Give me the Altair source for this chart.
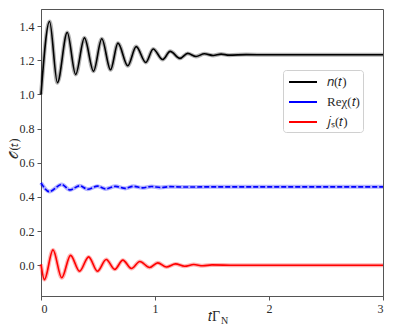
import altair as alt
import pandas as pd

# ---- data (extrema of the oscillations) ----
n_t = [0.0, 0.075, 0.144, 0.23, 0.304, 0.381, 0.461, 0.533, 0.61, 0.675, 0.761, 0.835,
       0.919, 0.984, 1.067, 1.133, 1.219, 1.287, 1.36, 1.433, 1.51, 1.58, 1.65, 1.8, 2.0, 2.5, 3.0]
n_v = [1.0, 1.427, 1.069, 1.362, 1.117, 1.331, 1.136, 1.326, 1.144, 1.30, 1.168, 1.28,
       1.187, 1.266, 1.204, 1.252, 1.211, 1.240, 1.222, 1.238, 1.228, 1.236, 1.230, 1.233, 1.232, 1.232, 1.232]

chi_t = [0.0, 0.073, 0.182, 0.253, 0.338, 0.41, 0.495, 0.567, 0.653, 0.739, 0.81, 0.89,
         0.97, 1.05, 1.13, 1.25, 1.5, 2.0, 2.5, 3.0]
chi_v = [0.482, 0.431, 0.473, 0.441, 0.465, 0.445, 0.463, 0.447, 0.462, 0.45, 0.462, 0.453,
         0.461, 0.455, 0.460, 0.458, 0.459, 0.459, 0.459, 0.459]

js_t = [0.0, 0.03, 0.105, 0.182, 0.259, 0.338, 0.418, 0.495, 0.572, 0.647, 0.718, 0.793,
        0.867, 0.953, 1.024, 1.1, 1.18, 1.26, 1.34, 1.42, 1.5, 1.7, 2.0, 2.5, 3.0]
js_v = [0.005, -0.084, 0.09, -0.073, 0.058, -0.035, 0.049, -0.035, 0.034, -0.024, 0.03, -0.019,
        0.022, -0.013, 0.014, -0.01, 0.008, -0.006, 0.004, -0.003, 0.002, 0.0, 0.0, 0.0, 0.0]

series_names = ["𝑛(𝑡)", "Reχ(𝑡)", "𝑗ₛ(𝑡)"]
series_colors = ["#000000", "#0000ff", "#ff0000"]
x_ticks = [0, 1, 2, 3]
y_ticks = [0.0, 0.2, 0.4, 0.6, 0.8, 1.0, 1.2, 1.4]

rows = []
for name, ts, vs in zip(series_names, [n_t, chi_t, js_t], [n_v, chi_v, js_v]):
    for t, v in zip(ts, vs):
        rows.append({"t": t, "v": v, "s": name})
df = pd.DataFrame(rows)

FONT = "Liberation Serif"
TXT = "#2a2a2a"

x = alt.X("t:Q", scale=alt.Scale(domain=[0, 3], nice=False, zero=False),
          axis=alt.Axis(values=x_ticks, format="d", title=None, grid=False))
y = alt.Y("v:Q", scale=alt.Scale(domain=[-0.18, 1.5], nice=False, zero=False),
          axis=alt.Axis(values=y_ticks, format=".1f", title="𝒪(𝑡)", grid=False,
                        titleFontSize=12, titleFont=FONT, titleFontWeight="normal",
                        titleColor=TXT, titleAngle=270, titleX=-21, titleY=139,
                        titleAlign="center", titleBaseline="bottom"))
color = alt.Color("s:N", scale=alt.Scale(domain=series_names, range=series_colors),
                  legend=alt.Legend(title=None, orient="none", legendX=242, legendY=61,
                                    symbolType="M-1.75,0H1.75", symbolSize=256,
                                    symbolStrokeWidth=2, symbolOffset=8,
                                    symbolOpacity=1, labelFont=FONT, labelFontSize=13,
                                    labelColor=TXT, labelOffset=15,
                                    strokeColor="#d0d0d0", fillColor="white",
                                    padding=3, cornerRadius=3, rowPadding=4))

halo = alt.Chart(df).mark_line(strokeWidth=4, opacity=0.3, interpolate="monotone").encode(
    x=x, y=y, color=color)
main = alt.Chart(df).transform_filter(
    alt.datum.s != series_names[1]
).mark_line(strokeWidth=1.6, interpolate="monotone").encode(x=x, y=y, color=color)
main_chi = alt.Chart(df).transform_filter(
    alt.datum.s == series_names[1]
).mark_line(strokeWidth=1.6, interpolate="monotone", strokeDash=[5, 2],
            color=series_colors[1]).encode(x=x, y=y)

xt = alt.Chart(pd.DataFrame({"label": ["𝑡Γ"]})).mark_text(
    font=FONT, fontSize=14, align="right", baseline="alphabetic", color=TXT).encode(
    text="label:N", x=alt.value(179), y=alt.value(312))
xs = alt.Chart(pd.DataFrame({"label": ["N"]})).mark_text(
    font=FONT, fontSize=10, align="left", baseline="alphabetic", color=TXT).encode(
    text="label:N", x=alt.value(180), y=alt.value(315))

chart = alt.layer(halo, main, main_chi, xt, xs).properties(
    width=342, height=287,
    autosize=alt.AutoSizeParams(type="none"),
    padding={"left": 33, "top": 1, "right": 4, "bottom": 30},
).configure_view(stroke="#555", strokeWidth=1).configure_axis(
    labelFont=FONT, labelFontSize=12, labelColor=TXT, tickColor="#555",
    domainColor="#555", tickSize=4, labelPadding=3, domainWidth=1)

chart.save("out.html", embed_options={"renderer": "svg", "actions": False})
